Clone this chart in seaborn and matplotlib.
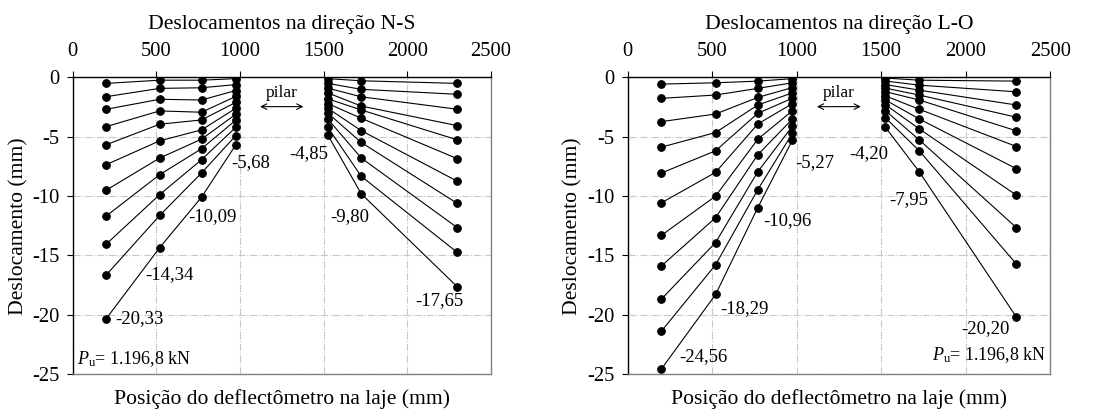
import pandas as pd
import matplotlib.pyplot as plt
import seaborn as sns

# ==========================================
# 1. DADOS
# ==========================================
posicoes = [200, 520, 770, 975, 1525, 1725, 2300]
lado = ['esq', 'esq', 'esq', 'esq', 'dir', 'dir', 'dir']

# deslocamentos (mm) por deflectômetro, 11 etapas de carga
ns_d1 = [-0.50, -1.62, -2.68, -4.14, -5.67, -7.35, -9.50, -11.68, -14.05, -16.65, -20.33]
ns_d2 = [-0.23, -0.92, -1.84, -2.82, -3.94, -5.34, -6.79, -8.19, -9.87, -11.63, -14.34]
ns_d3 = [-0.23, -0.87, -1.90, -2.93, -3.58, -4.42, -5.20, -6.01, -6.93, -8.05, -10.09]
ns_d4 = [-0.10, -0.60, -1.10, -1.60, -2.10, -2.60, -3.10, -3.60, -4.20, -4.90, -5.68]
ns_d5 = [-0.10, -0.50, -0.90, -1.30, -1.80, -2.20, -2.60, -3.00, -3.50, -4.20, -4.85]
ns_d6 = [-0.28, -1.00, -1.63, -2.41, -2.74, -3.44, -4.48, -5.48, -6.79, -8.33, -9.80]
ns_d7 = [-0.50, -1.42, -2.68, -4.06, -5.26, -6.85, -8.75, -10.62, -12.66, -14.75, -17.65]

lo_d1 = [-0.56, -1.76, -3.72, -5.87, -8.05, -10.56, -13.30, -15.88, -18.67, -21.37, -24.56]
lo_d2 = [-0.45, -1.48, -3.08, -4.64, -6.18, -8.00, -10.00, -11.82, -13.91, -15.79, -18.29]
lo_d3 = [-0.31, -0.92, -1.68, -2.32, -3.02, -3.92, -5.20, -6.51, -7.94, -9.45, -10.96]
lo_d4 = [-0.10, -0.45, -0.85, -1.30, -1.75, -2.20, -2.80, -3.50, -4.10, -4.70, -5.27]
lo_d5 = [-0.05, -0.30, -0.60, -0.90, -1.20, -1.55, -1.90, -2.30, -2.80, -3.40, -4.20]
lo_d6 = [-0.23, -0.65, -1.07, -1.48, -1.90, -2.68, -3.50, -4.33, -5.26, -6.18, -7.95]
lo_d7 = [-0.31, -1.21, -2.32, -3.35, -4.50, -5.82, -7.69, -9.92, -12.66, -15.73, -20.20]

ns_rotulos = [(945, -7.2, '-5,68', 'left'), (1530, -6.4, '-4,85', 'right'),
              (690, -11.7, '-10,09', 'left'), (1540, -11.7, '-9,80', 'left'),
              (432, -16.6, '-14,34', 'left'), (253, -20.35, '-20,33', 'left'),
              (2335, -18.8, '-17,65', 'right')]
lo_rotulos = [(990, -7.2, '-5,27', 'left'), (1540, -6.4, '-4,20', 'right'),
              (1550, -10.3, '-7,95', 'left'), (800, -12.1, '-10,96', 'left'),
              (550, -19.5, '-18,29', 'left'), (303, -23.55, '-24,56', 'left'),
              (2260, -21.2, '-20,20', 'right')]


def montar_df(colunas):
    linhas = []
    for pos, ld, valores in zip(posicoes, lado, colunas):
        for etapa, v in enumerate(valores):
            linhas.append({'pos': pos, 'desl': v, 'grupo': f'{etapa}_{ld}'})
    return pd.DataFrame(linhas)


df_ns = montar_df([ns_d1, ns_d2, ns_d3, ns_d4, ns_d5, ns_d6, ns_d7])
df_lo = montar_df([lo_d1, lo_d2, lo_d3, lo_d4, lo_d5, lo_d6, lo_d7])

# ==========================================
# 2. ESTILO
# ==========================================
sns.set_style('ticks')
plt.rcParams['font.family'] = ['Liberation Serif', 'DejaVu Serif']
plt.rcParams['mathtext.fontset'] = 'custom'
plt.rcParams['mathtext.it'] = 'Liberation Serif:italic'
plt.rcParams['mathtext.rm'] = 'Liberation Serif'
plt.rcParams['axes.unicode_minus'] = False
plt.rcParams['text.color'] = 'black'
plt.rcParams['axes.labelcolor'] = 'black'
plt.rcParams['xtick.color'] = 'black'
plt.rcParams['ytick.color'] = 'black'

fig = plt.figure(figsize=(11.09, 4.12), dpi=100)
ax1 = fig.add_axes([0.0656, 0.092, 0.377, 0.720])
ax2 = fig.add_axes([0.566, 0.092, 0.381, 0.720])


def desenhar(ax, df, titulo, rotulos, pu_lado):
    sns.lineplot(data=df, x='pos', y='desl', units='grupo', estimator=None,
                 sort=False, color='black', linewidth=0.8, marker='o',
                 markersize=5.5, markeredgecolor='black', ax=ax)
    ax.set_xlim(0, 2500)
    ax.set_ylim(-25, 0)
    ax.set_xticks(range(0, 2501, 500))
    ax.set_yticks(range(-25, 1, 5))
    ax.xaxis.tick_top()
    ax.tick_params(labelsize=14.8, length=4.5, width=0.8, direction='out')
    ax.tick_params(axis='x', pad=7)
    ax.tick_params(axis='y', pad=5)
    ax.grid(True, color='#c8c8c8', linestyle='-.', linewidth=0.8)
    ax.set_axisbelow(True)
    for s in ['top', 'left']:
        ax.spines[s].set_color('black')
        ax.spines[s].set_linewidth(1.0)
    for s in ['right', 'bottom']:
        ax.spines[s].set_color('#808080')
        ax.spines[s].set_linewidth(1.0)

    ax.set_title(titulo, fontsize=15.6, pad=10)
    ax.set_xlabel('Posição do deflectômetro na laje (mm)', fontsize=15.6, labelpad=11)
    ax.xaxis.set_label_position('bottom')
    ax.set_ylabel('Deslocamento (mm)', fontsize=15.6, labelpad=3)

    for x, y, txt, ha in rotulos:
        ax.text(x, y, txt, fontsize=13.5, ha=ha, va='center')

    # pilar
    ax.text(1250, -1.3, 'pilar', fontsize=12.5, ha='center', va='center')
    ax.annotate('', xy=(1103, -2.46), xytext=(1396, -2.46),
                arrowprops=dict(arrowstyle='<->', color='black', lw=0.8))

    pu = r'$P_\mathrm{u}$= 1.196,8 kN'
    if pu_lado == 'esq':
        ax.text(24, -23.7, pu, fontsize=13, ha='left', va='center')
    else:
        ax.text(2477, -23.4, pu, fontsize=13, ha='right', va='center')


desenhar(ax1, df_ns, 'Deslocamentos na direção N-S', ns_rotulos, 'esq')
desenhar(ax2, df_lo, 'Deslocamentos na direção L-O', lo_rotulos, 'dir')

fig.savefig('out.png', dpi=100)
